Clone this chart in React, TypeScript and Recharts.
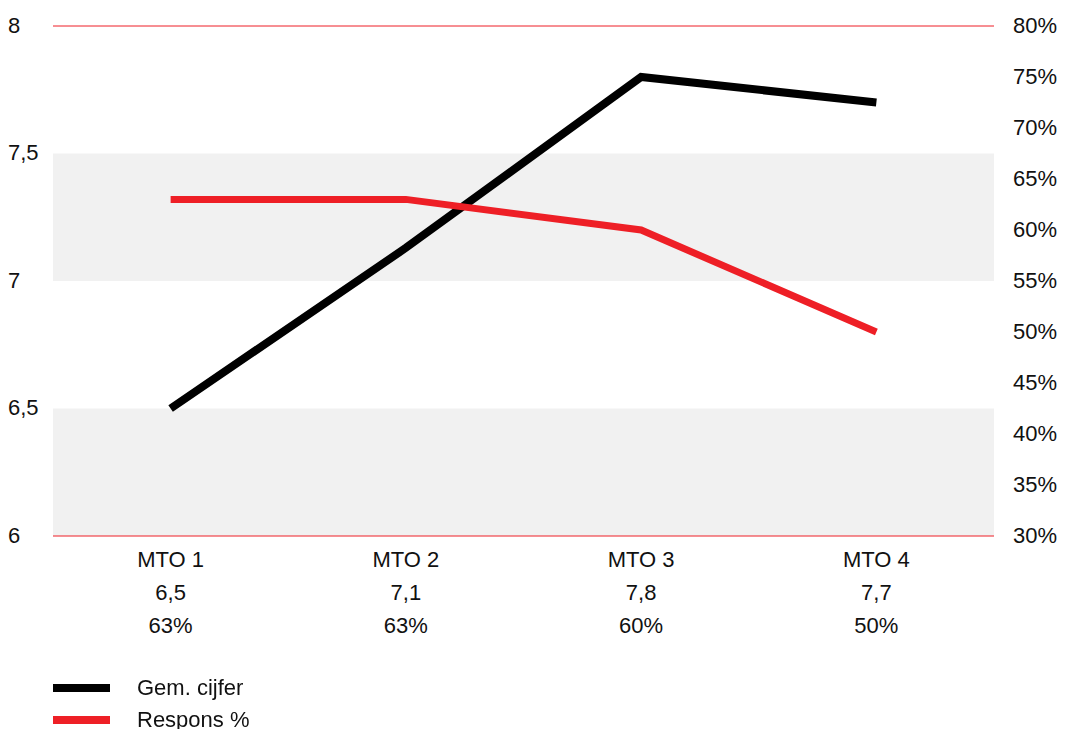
import React from 'react';
import { LineChart, Line, XAxis, YAxis, ReferenceArea, ReferenceLine, Legend } from 'recharts';

const categories = ['MTO 1', 'MTO 2', 'MTO 3', 'MTO 4'];
const gemCijfer = [6.5, 7.13, 7.8, 7.7];
const respons = [63, 63, 60, 50];
const cijferLabels = ['6,5', '7,1', '7,8', '7,7'];
const responsLabels = ['63%', '63%', '60%', '50%'];
const leftTicks = [6, 6.5, 7, 7.5, 8];
const rightTicks = [30, 35, 40, 45, 50, 55, 60, 65, 70, 75, 80];
const bands = [[6, 6.5], [7, 7.5]];

const data = categories.map((name, i) => ({
  name,
  cijfer: gemCijfer[i],
  respons: respons[i],
}));

const FONT = '"Liberation Sans", Arial, sans-serif';
const FS = 22;
const RED = '#ee1f26';

const LeftTick = (props: any) => {
  const { x, y, payload } = props;
  return (
    <text x={x - 45} y={y} dy="0.3em" textAnchor="start" fontSize={FS} fill="#111" fontFamily={FONT}>
      {String(payload.value).replace('.', ',')}
    </text>
  );
};

const RightTick = (props: any) => {
  const { x, y, payload } = props;
  return (
    <text x={x} y={y} dy="0.3em" textAnchor="start" fontSize={FS} fill="#111" fontFamily={FONT}>
      {payload.value}%
    </text>
  );
};

const BottomTick = (props: any) => {
  const { x, y, payload, index } = props;
  return (
    <text x={x} y={y} textAnchor="middle" fontSize={FS} fill="#111" fontFamily={FONT}>
      <tspan x={x} dy={31}>{payload.value}</tspan>
      <tspan x={x} dy={33}>{cijferLabels[index]}</tspan>
      <tspan x={x} dy={33}>{responsLabels[index]}</tspan>
    </text>
  );
};

const LegendContent = (props: any) => {
  const { payload } = props;
  return (
    <div style={{ fontFamily: FONT, fontSize: FS, color: '#111', lineHeight: '32px' }}>
      {(payload || []).map((item: any) => (
        <div key={item.value} style={{ display: 'flex', alignItems: 'center', height: 32 }}>
          <span style={{ display: 'inline-block', width: 57, height: 8, background: item.color }} />
          <span style={{ marginLeft: 27 }}>{item.value}</span>
        </div>
      ))}
    </div>
  );
};

export default function App() {
  return (
    <div style={{ position: 'fixed', left: 0, top: 0, width: 1065, height: 729, background: '#fff' }}>
      <LineChart
        width={1065}
        height={729}
        data={data}
        margin={{ top: 26, right: 8, bottom: 93, left: 8 }}
      >
        <XAxis
          dataKey="name"
          scale="band"
          axisLine={false}
          tickLine={false}
          tickSize={0}
          tickMargin={0}
          interval={0}
          tick={<BottomTick />}
          height={100}
        />
        <YAxis
          yAxisId="left"
          orientation="left"
          domain={[6, 8]}
          ticks={leftTicks}
          width={45}
          axisLine={false}
          tickLine={false}
          tickSize={0}
          tickMargin={0}
          tick={<LeftTick />}
        />
        <YAxis
          yAxisId="right"
          orientation="right"
          domain={[30, 80]}
          ticks={rightTicks}
          width={63}
          axisLine={false}
          tickLine={false}
          tickSize={0}
          tickMargin={19}
          tick={<RightTick />}
        />
        {bands.map(([y1, y2]) => (
          <ReferenceArea key={y1} yAxisId="left" y1={y1} y2={y2} fill="#f1f1f1" fillOpacity={1} stroke="none" ifOverflow="visible" />
        ))}
        <ReferenceLine yAxisId="left" y={8} stroke={RED} strokeWidth={1} ifOverflow="visible" />
        <ReferenceLine yAxisId="left" y={6} stroke={RED} strokeWidth={1} ifOverflow="visible" />
        <Line
          yAxisId="left"
          type="linear"
          dataKey="cijfer"
          name="Gem. cijfer"
          stroke="#000"
          strokeWidth={8}
          dot={false}
          activeDot={false}
          isAnimationActive={false}
        />
        <Line
          yAxisId="right"
          type="linear"
          dataKey="respons"
          name="Respons %"
          stroke={RED}
          strokeWidth={7}
          dot={false}
          activeDot={false}
          isAnimationActive={false}
        />
        <Legend
          layout="horizontal"
          verticalAlign="middle"
          align="center"
          content={<LegendContent />}
          wrapperStyle={{ left: 53, top: 672, width: 300, height: 64, overflow: 'visible' }}
        />
      </LineChart>
    </div>
  );
}
